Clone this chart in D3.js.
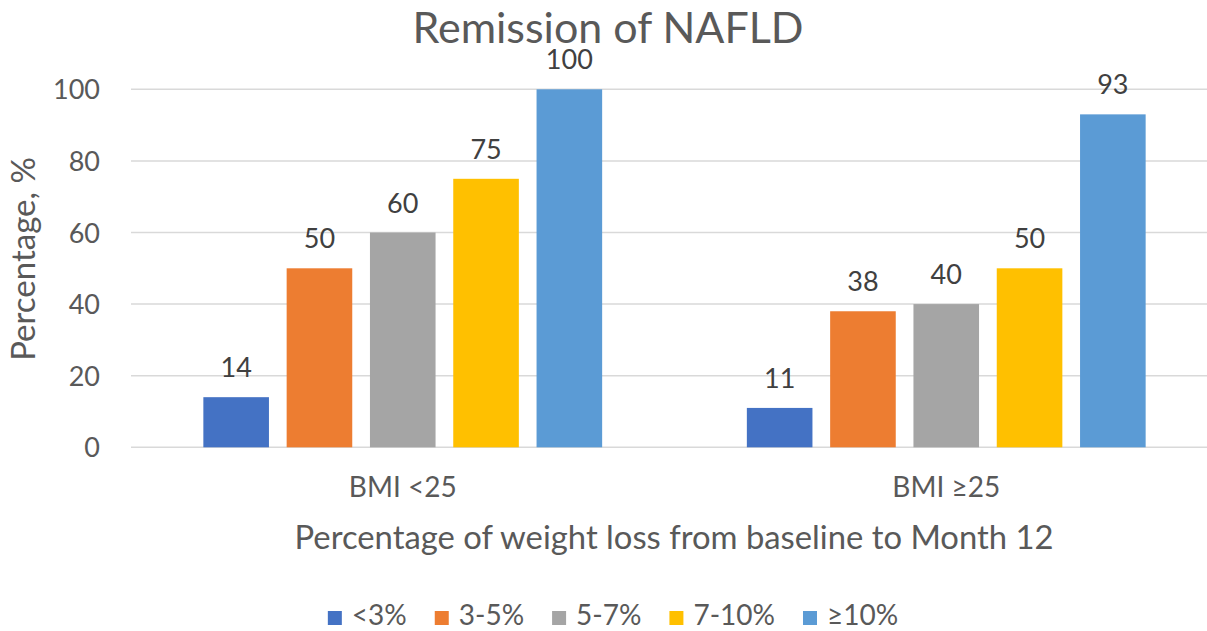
<!DOCTYPE html>
<html>
<head>
<meta charset="utf-8">
<script src="https://cdn.jsdelivr.net/npm/d3@7"></script>
<style>
  body { margin: 0; background: #fff; }
  text { font-family: Lato, "Open Sans", sans-serif; }
</style>
</head>
<body>
<svg id="chart" width="1207" height="631"></svg>
<script>
// data
var groups = ['BMI <25', 'BMI \u226525'];
var seriesNames = ['<3%', '3-5%', '5-7%', '7-10%', '\u226510%'];
var seriesColors = ['#4472C4', '#ED7D31', '#A5A5A5', '#FFC000', '#5B9BD5'];
var bmiUnder25 = [14, 50, 60, 75, 100];
var bmiOver25 = [11, 38, 40, 50, 93];
var yTicks = [0, 20, 40, 60, 80, 100];

var values = [bmiUnder25, bmiOver25];

var svg = d3.select('#chart');

var x0 = d3.scaleBand().domain(groups).range([131, 1218]);
var ys = d3.scaleLinear().domain([0, 100]).range([447.3, 89.3]);
// inner scale: 5 bars of ~65.6px with ~17.7px gaps
var groupWidth = 398.8;
var x1 = d3.scaleBand().domain(seriesNames).range([0, groupWidth]).paddingInner(0.2125).paddingOuter(0);

// gridlines
svg.append('g')
  .selectAll('line')
  .data(yTicks)
  .enter()
  .append('line')
    .attr('x1', 131).attr('x2', 1207)
    .attr('y1', d => ys(d)).attr('y2', d => ys(d))
    .attr('stroke', '#d9d9d9')
    .attr('stroke-width', 1.5);

// y tick labels
svg.append('g')
  .selectAll('text')
  .data(yTicks)
  .enter()
  .append('text')
    .attr('x', 100)
    .attr('y', d => ys(d) + 10)
    .attr('text-anchor', 'end')
    .attr('font-size', 27)
    .attr('fill', '#595959')
    .text(d => d);

// bars
var grp = svg.append('g')
  .selectAll('g')
  .data(groups)
  .enter()
  .append('g')
    .attr('transform', d => 'translate(' + (x0(d) + x0.bandwidth() / 2 - groupWidth / 2) + ',0)');

grp.selectAll('rect')
  .data((g, i) => values[i].map((v, j) => ({ s: seriesNames[j], v: v, c: seriesColors[j] })))
  .enter()
  .append('rect')
    .attr('x', d => x1(d.s))
    .attr('y', d => ys(d.v))
    .attr('width', x1.bandwidth())
    .attr('height', d => ys(0) - ys(d.v))
    .attr('fill', d => d.c);

grp.selectAll('text')
  .data((g, i) => values[i].map((v, j) => ({ s: seriesNames[j], v: v })))
  .enter()
  .append('text')
    .attr('x', d => x1(d.s) + x1.bandwidth() / 2)
    .attr('y', d => ys(d.v) - 20)
    .attr('text-anchor', 'middle')
    .attr('font-size', 27)
    .attr('fill', '#404040')
    .text(d => d.v);

// category labels
svg.append('g')
  .selectAll('text')
  .data(groups)
  .enter()
  .append('text')
    .attr('x', d => x0(d) + x0.bandwidth() / 2)
    .attr('y', 497)
    .attr('text-anchor', 'middle')
    .attr('font-size', 28)
    .attr('fill', '#595959')
    .text(d => d);

// title
svg.append('text')
  .attr('x', 608).attr('y', 43)
  .attr('text-anchor', 'middle')
  .attr('font-size', 43)
  .attr('fill', '#595959')
  .text('Remission of NAFLD');

// axis titles
svg.append('text')
  .attr('x', 674).attr('y', 549)
  .attr('text-anchor', 'middle')
  .attr('font-size', 32.8)
  .attr('fill', '#595959')
  .text('Percentage of weight loss from baseline to Month 12');

svg.append('text')
  .attr('transform', 'translate(35,259) rotate(-90)')
  .attr('text-anchor', 'middle')
  .attr('font-size', 33)
  .attr('fill', '#595959')
  .text('Percentage, %');

// legend
var legend = svg.append('g');
var lx = 0;
seriesNames.forEach(function(name, i) {
  var item = legend.append('g').attr('transform', 'translate(' + lx + ',0)');
  item.append('rect')
    .attr('x', 0).attr('y', -14)
    .attr('width', 14).attr('height', 14)
    .attr('fill', seriesColors[i]);
  var t = item.append('text')
    .attr('x', 24).attr('y', 0)
    .attr('font-size', 28)
    .attr('fill', '#595959')
    .text(name);
  lx += 24 + t.node().getComputedTextLength() + 28;
});
lx -= 28;
legend.attr('transform', 'translate(' + (613 - lx / 2) + ',625)');
</script>
</body>
</html>
